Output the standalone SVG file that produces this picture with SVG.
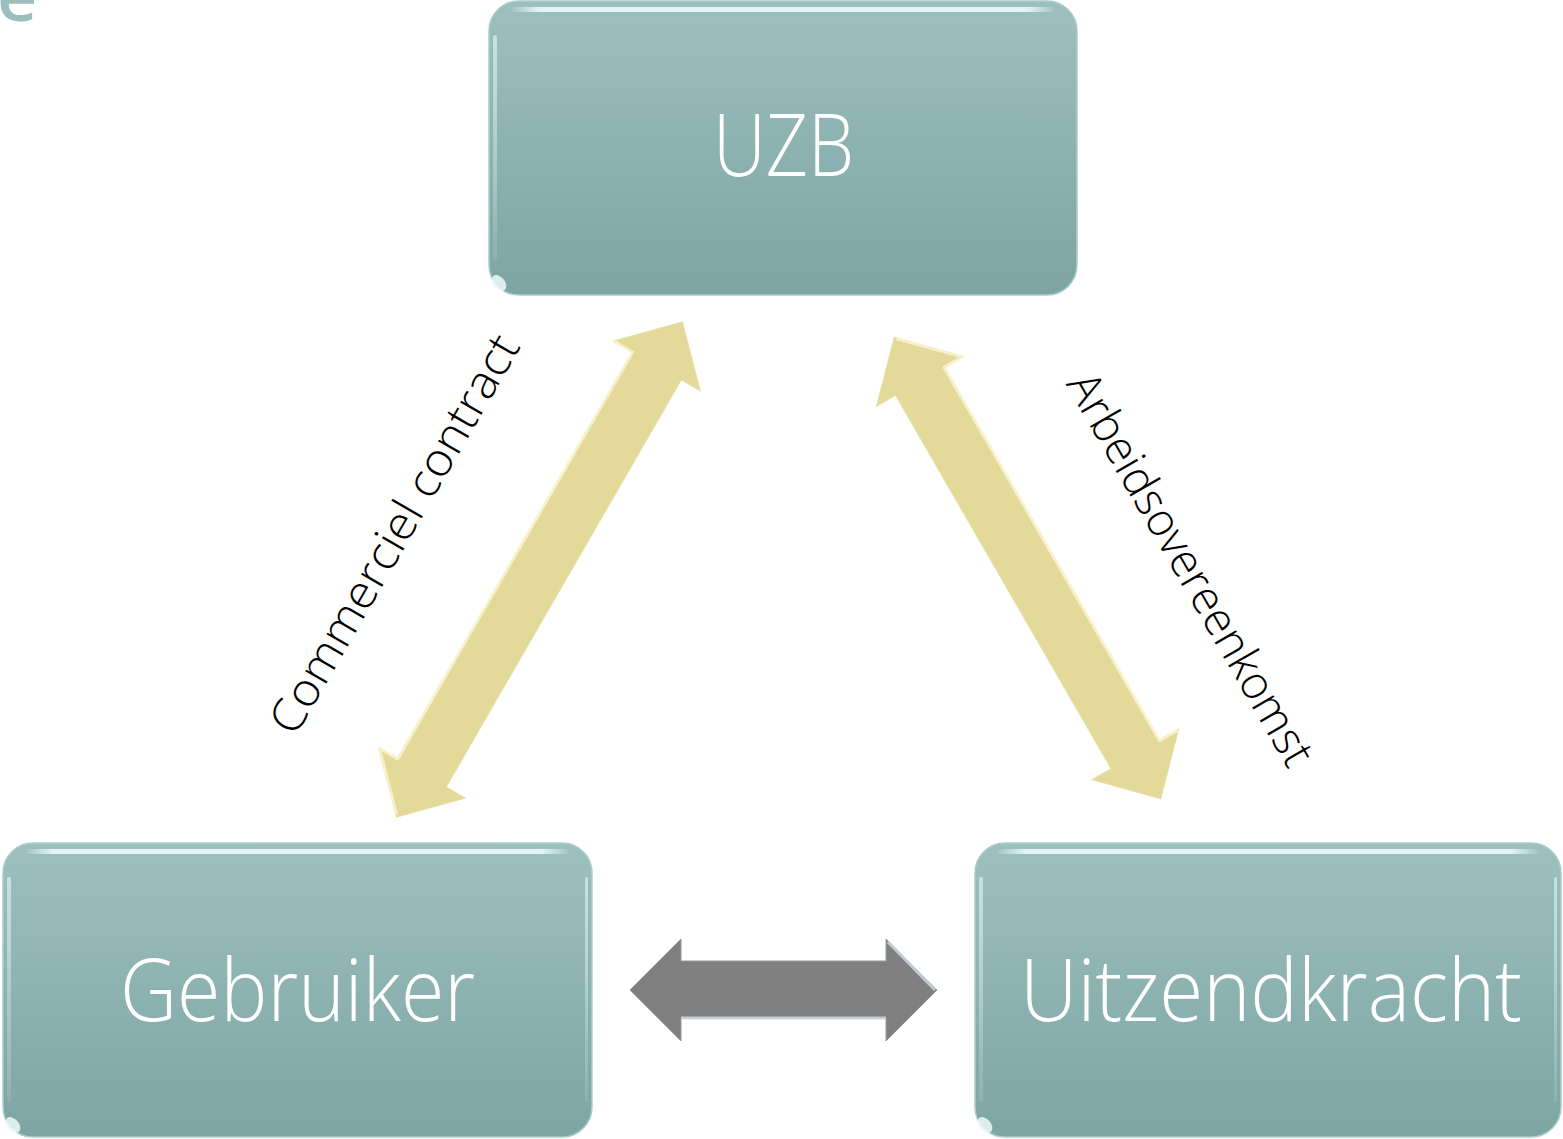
<svg xmlns="http://www.w3.org/2000/svg" width="1563" height="1139" viewBox="0 0 1563 1139">
  <style>
    .box { fill: url(#boxGrad); stroke: #a9cdcc; stroke-width: 1.5; }
    .topHi { fill: url(#topHiGrad); }
    .sideHi { fill: url(#leftHiGrad); }
    .glint { fill: #eef8f8; opacity: 0.85; }
    .nodeText { font-family: "Open Sans", "Liberation Sans", sans-serif; font-weight: 300; font-size: 86px; fill: #ffffff; text-anchor: middle; }
    .label { font-family: "Open Sans", "Liberation Sans", sans-serif; font-weight: 300; font-size: 46px; fill: #000000; text-anchor: middle; }
    .yArrow { fill: #e3d998; stroke: #e9e0a8; stroke-width: 1; }
    .yHi { fill: none; stroke: #f8f2cc; stroke-width: 3; stroke-linejoin: round; opacity: 0.9; }
    .gArrow { fill: #808080; stroke: #9a9a9a; stroke-width: 1; }
    .gHi { fill: none; stroke: #c9d3d8; stroke-width: 3; stroke-linejoin: round; opacity: 0.9; }
  </style>
  <defs>
    <linearGradient id="boxGrad" x1="0" y1="0" x2="0" y2="1">
      <stop offset="0" stop-color="#9dc0bf"/>
      <stop offset="1" stop-color="#7ca5a3"/>
    </linearGradient>
    <linearGradient id="topHiGrad" x1="0" y1="0" x2="1" y2="0">
      <stop offset="0" stop-color="#e6f8f8" stop-opacity="0.1"/>
      <stop offset="0.05" stop-color="#e6f8f8" stop-opacity="0.95"/>
      <stop offset="0.95" stop-color="#e6f8f8" stop-opacity="0.95"/>
      <stop offset="1" stop-color="#e6f8f8" stop-opacity="0.1"/>
    </linearGradient>
    <linearGradient id="leftHiGrad" x1="0" y1="0" x2="0" y2="1">
      <stop offset="0" stop-color="#cbe7e6" stop-opacity="0.9"/>
      <stop offset="1" stop-color="#cbe7e6" stop-opacity="0.15"/>
    </linearGradient>
  </defs>

  <rect width="1563" height="1139" fill="#ffffff"/>

  <text x="-3" y="21" font-family="Open Sans, Liberation Sans, sans-serif" font-weight="600" font-size="70" fill="#9bbfbe">e</text>

  <g id="node-uzb">
    <rect class="box" x="489" y="1" width="588" height="294" rx="30" ry="30"/>
    <rect class="topHi" x="512" y="7" width="542" height="5" rx="2.5"/>
    <rect class="sideHi" x="493" y="35" width="4" height="225" rx="2"/>
    <ellipse class="glint" cx="499" cy="283" rx="6" ry="9" transform="rotate(-40 499 283)"/>
    <text class="nodeText" x="783.5" y="176" textLength="141" lengthAdjust="spacingAndGlyphs">UZB</text>
  </g>

  <g id="node-gebruiker">
    <rect class="box" x="3" y="843" width="589" height="294" rx="30" ry="30"/>
    <rect class="topHi" x="26" y="849" width="543" height="5" rx="2.5"/>
    <rect class="sideHi" x="7" y="877" width="4" height="225" rx="2"/>
    <rect class="sideHi" x="585" y="877" width="3" height="225" rx="1.5"/>
    <ellipse class="glint" cx="13" cy="1125" rx="6" ry="9" transform="rotate(-40 13 1125)"/>
    <text class="nodeText" x="297.5" y="1021" textLength="355" lengthAdjust="spacingAndGlyphs">Gebruiker</text>
  </g>

  <g id="node-uitzendkracht">
    <rect class="box" x="975" y="843" width="586" height="294" rx="30" ry="30"/>
    <rect class="topHi" x="998" y="849" width="540" height="5" rx="2.5"/>
    <rect class="sideHi" x="979" y="877" width="4" height="225" rx="2"/>
    <rect class="sideHi" x="1554" y="877" width="3" height="225" rx="1.5"/>
    <ellipse class="glint" cx="985" cy="1125" rx="6" ry="9" transform="rotate(-40 985 1125)"/>
    <text class="nodeText" x="1271" y="1021" textLength="502" lengthAdjust="spacingAndGlyphs">Uitzendkracht</text>
  </g>

  <g id="connectors">
    <g id="arrow-commercieel" transform="translate(539.5 569.5) rotate(-60)">
      <polygon class="yArrow" points="-286,0 -235,-50 -235,-28 235,-28 235,-50 286,0 235,50 235,28 -235,28 -235,50"/>
      <polyline class="yHi" points="-284,-1 -235,-49 -235,-28 235,-28 235,-49"/>
    </g>
    <g id="arrow-arbeid" transform="translate(1027.5 568) rotate(60)">
      <polygon class="yArrow" points="-266.5,0 -215.5,-50 -215.5,-28 215.5,-28 215.5,-50 266.5,0 215.5,50 215.5,28 -215.5,28 -215.5,50"/>
      <polyline class="yHi" points="-264,-1 -215.5,-49 -215.5,-28 215.5,-28 215.5,-49"/>
    </g>
    <g id="arrow-horizontal">
      <polygon class="gArrow" points="630,990 681,939 681,961 886,961 886,939 937,990 886,1041 886,1018 681,1018 681,1041"/>
      <polyline class="gHi" points="681,1018 886,1018"/>
      <polyline class="gHi" points="888,942 935,990"/>
    </g>
    <text class="label" transform="translate(408 542) rotate(-60)" textLength="452" lengthAdjust="spacingAndGlyphs">Commerciel contract</text>
    <text class="label" transform="translate(1177 577) rotate(60)" textLength="446" lengthAdjust="spacingAndGlyphs">Arbeidsovereenkomst</text>
  </g>
</svg>
